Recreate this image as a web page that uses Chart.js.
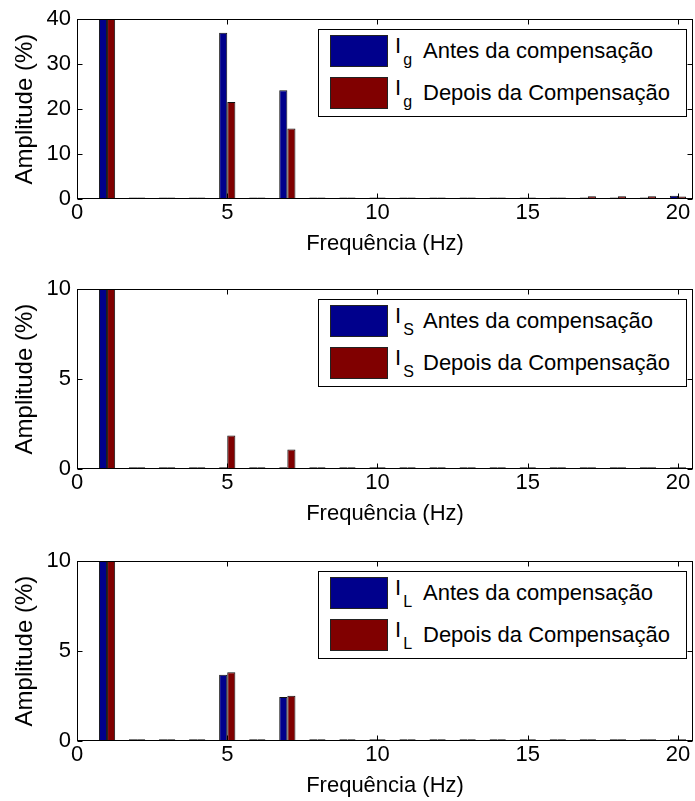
<!DOCTYPE html>
<html>
<head>
<meta charset="utf-8">
<script src="https://cdn.jsdelivr.net/npm/chart.js@4"></script>
<style>
  body { margin: 0; background: #fff; font-family: "Liberation Sans", Arial, sans-serif; }
  .panel { position: absolute; left: 0; width: 695px; height: 259px; }
  .legend { position: absolute; width: 369px; height: 88px; box-sizing: border-box; background: #fff; border: 1px solid #000; }
  .row { position: absolute; left: 11px; height: 32px; display: flex; align-items: center; font-size: 22px; color: #000; white-space: nowrap; }
  .swatch { width: 58px; height: 32px; box-sizing: border-box; border: 1px solid #222; }
  .sym { width: 28px; margin-left: 7px; }
  .sym sub { font-size: 16px; vertical-align: -12px; margin-left: 2px; }
</style>
</head>
<body>
<div class="panel" style="top:0px"><canvas id="c1" width="695" height="259"></canvas><div class="legend" id="l1"></div></div>
<div class="panel" style="top:270px"><canvas id="c2" width="695" height="259"></canvas><div class="legend" id="l2"></div></div>
<div class="panel" style="top:542px"><canvas id="c3" width="695" height="259"></canvas><div class="legend" id="l3"></div></div>
<script>
// harmonic orders on the x axis
const harmonics = [1, 2, 3, 4, 5, 6, 7, 8, 9, 10, 11, 12, 13, 14, 15, 16, 17, 18, 19, 20];

// Ig
const igAntes  = [100, 0.35, 0.35, 0.35, 37.0, 0.35, 24.2, 0.35, 0.35, 0.35, 0.35, 0.35, 0.35, 0.35, 0.35, 0.35, 0.35, 0.35, 0.35, 0.7];
const igDepois = [100, 0.35, 0.35, 0.35, 21.6, 0.35, 15.7, 0.35, 0.35, 0.35, 0.35, 0.35, 0.35, 0.35, 0.35, 0.35, 0.6, 0.6, 0.6, 0.55];

// Is
const isAntes  = [100, 0.1, 0.1, 0.1, 0.1, 0.1, 0.1, 0.1, 0.1, 0.1, 0.1, 0.1, 0.1, 0.1, 0.1, 0.1, 0.1, 0.1, 0.1, 0.1];
const isDepois = [100, 0.1, 0.1, 0.1, 1.87, 0.1, 1.09, 0.1, 0.1, 0.1, 0.1, 0.1, 0.1, 0.1, 0.1, 0.1, 0.1, 0.1, 0.1, 0.1];

// IL
const ilAntes  = [100, 0.1, 0.1, 0.1, 3.69, 0.1, 2.45, 0.1, 0.1, 0.1, 0.1, 0.1, 0.1, 0.1, 0.1, 0.1, 0.1, 0.1, 0.1, 0.1];
const ilDepois = [100, 0.1, 0.1, 0.1, 3.82, 0.1, 2.52, 0.1, 0.1, 0.1, 0.1, 0.1, 0.1, 0.1, 0.1, 0.1, 0.1, 0.1, 0.1, 0.1];

const seriesLabels = ["Antes da compensação", "Depois da Compensação"];
const yTicks1 = [0, 10, 20, 30, 40];
const yTicks2 = [0, 5, 10];

const blue = "#00008c";
const red = "#800000";

Chart.defaults.font.family = '"Liberation Sans", Arial, sans-serif';
Chart.defaults.color = "#000";

// box around the axes with small inward ticks, like matlab
const frame = {
  id: "frame",
  afterDatasetsDraw(chart) {
    const { ctx, chartArea: a, scales: { x, y } } = chart;
    const L = Math.round(a.left) + 0.5, R = Math.round(a.right) - 0.5;
    const T = Math.round(a.top) + 0.5, B = Math.round(a.bottom) - 0.5;
    ctx.save();
    ctx.strokeStyle = "#000";
    ctx.lineWidth = 1;
    ctx.strokeRect(L, T, R - L, B - T);
    ctx.beginPath();
    x.ticks.forEach(t => {
      const px = Math.round(x.getPixelForValue(t.value)) + 0.5;
      ctx.moveTo(px, B); ctx.lineTo(px, B - 5);
      ctx.moveTo(px, T); ctx.lineTo(px, T + 5);
    });
    y.ticks.forEach(t => {
      const py = Math.round(y.getPixelForValue(t.value)) + 0.5;
      ctx.moveTo(L, py); ctx.lineTo(L + 5, py);
      ctx.moveTo(R, py); ctx.lineTo(R - 5, py);
    });
    ctx.stroke();
    ctx.restore();
  }
};

// legend as html so the subscript stays real text
const htmlLegend = {
  id: "htmlLegend",
  afterRender(chart, args, opts) {
    const box = document.getElementById(opts.containerID);
    if (box.childElementCount) return;
    const a = chart.chartArea;
    box.style.left = (a.right - 375) + "px";
    box.style.top = (a.top + 10) + "px";
    chart.data.datasets.forEach((ds, i) => {
      const row = document.createElement("div");
      row.className = "row";
      row.style.top = (5 + i * 42) + "px";
      row.innerHTML = `<span class="swatch" style="background:${ds.backgroundColor}"></span>` +
        `<span class="sym">I<sub>${opts.sub}</sub></span><span>${ds.label}</span>`;
      box.appendChild(row);
    });
  }
};

function makeChart(canvasId, legendId, sub, antes, depois, yTicks) {
  const yMax = yTicks[yTicks.length - 1];
  return new Chart(document.getElementById(canvasId), {
    type: "bar",
    data: {
      labels: harmonics,
      datasets: [
        { label: seriesLabels[0], data: antes, backgroundColor: blue, borderColor: "#111", borderWidth: 1 },
        { label: seriesLabels[1], data: depois, backgroundColor: red, borderColor: "#111", borderWidth: 1 }
      ]
    },
    options: {
      responsive: false,
      animation: false,
      layout: { padding: { top: 16, left: 8, right: 2, bottom: 0 } },
      datasets: { bar: { categoryPercentage: 0.54, barPercentage: 1, clip: 0, borderSkipped: "start" } },
      plugins: {
        legend: { display: false },
        tooltip: { enabled: false },
        htmlLegend: { containerID: legendId, sub: sub }
      },
      scales: {
        x: {
          type: "linear", min: 0, max: 20.5, offset: false,
          grid: { display: false, drawTicks: false },
          border: { display: false },
          ticks: { stepSize: 5, includeBounds: false, maxRotation: 0, padding: 1, font: { size: 22 } },
          title: { display: true, text: "Frequência (Hz)", font: { size: 22 }, padding: { top: 0, bottom: 2 } },
          afterFit(s) { s.height = 60; }
        },
        y: {
          min: 0, max: yMax,
          grid: { display: false, drawTicks: false },
          border: { display: false },
          ticks: { stepSize: yTicks[1] - yTicks[0], padding: 6, font: { size: 22 } },
          title: { display: true, text: "Amplitude (%)", font: { size: 24 }, padding: { top: 3, bottom: 0 } },
          afterFit(s) { s.width = 69; }
        }
      }
    },
    plugins: [frame, htmlLegend]
  });
}

makeChart("c1", "l1", "g", igAntes, igDepois, yTicks1);
makeChart("c2", "l2", "S", isAntes, isDepois, yTicks2);
makeChart("c3", "l3", "L", ilAntes, ilDepois, yTicks2);
</script>
</body>
</html>
